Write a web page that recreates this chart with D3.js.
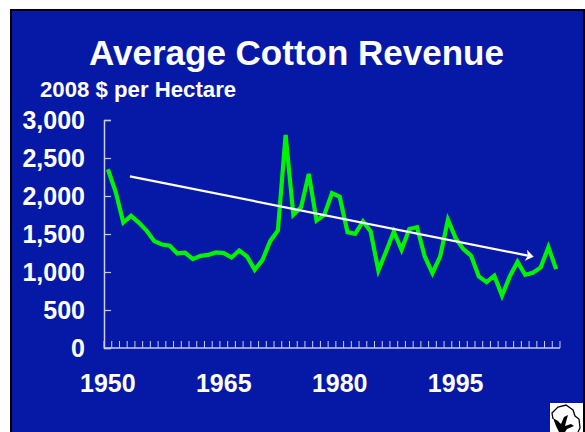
<!DOCTYPE html>
<html><head><meta charset="utf-8">
<script src="https://d3js.org/d3.v7.min.js"></script>
<style>html,body{margin:0;padding:0;background:#fff}svg{display:block}text{font-family:"Liberation Sans",Arial,sans-serif;font-weight:bold;fill:#fff}</style>
</head><body><svg id="c" width="585" height="432"></svg>
<script>
const years = d3.range(1950, 2009);
const revenue = [2352,2058,1651,1739,1650,1546,1406,1362,1345,1244,1253,1169,1213,1226,1257,1248,1191,1283,1204,1029,1156,1406,1546,2803,1752,1853,2290,1677,1752,2037,1990,1524,1502,1665,1533,1020,1270,1533,1292,1565,1590,1205,985,1205,1687,1446,1301,1214,941,866,950,691,941,1134,963,990,1060,1327,1038];
const trendYears = [1952.86, 2005.1];
const trendValues = [2259, 1200];
const yTicks = [0,500,1000,1500,2000,2500,3000];
const xLabels = [1950,1965,1980,1995];
const titleText = "Average Cotton Revenue";
const unitText = "2008 $ per Hectare";

const svg = d3.select("#c");
svg.append("rect").attr("x",11).attr("y",10).attr("width",573).attr("height",430).attr("fill","#0619A6").attr("stroke","#000").attr("stroke-width",2);
const x = d3.scaleBand().domain(years).range([104,560]);
const xc = d => x(d)+x.bandwidth()/2;
const xl = d3.scaleLinear().domain([1950,2008]).range([xc(1950),xc(2008)]);
const y = d3.scaleLinear().domain([0,3000]).range([348,120]);
const axisCol = "#c9cdea";
const gy = svg.append("g").attr("transform","translate(104,0)").call(d3.axisLeft(y).tickValues(yTicks).tickSize(-7).tickPadding(19).tickFormat(d3.format(",")));
gy.selectAll(".domain").attr("stroke",axisCol).attr("stroke-width",1.5);
gy.selectAll("line").attr("stroke",axisCol).attr("stroke-width",1.2);
gy.selectAll("text").style("font-size","25px").attr("dy","0.35em");
const gx = svg.append("g").attr("transform","translate(0,348)");
gx.append("line").attr("x1",104).attr("x2",560).attr("stroke",axisCol).attr("stroke-width",1.5);
gx.selectAll("line.t").data([...years.map(d=>x(d)),560]).join("line").attr("class","t").attr("x1",d=>d).attr("x2",d=>d).attr("y1",0).attr("y2",-7).attr("stroke",axisCol).attr("stroke-width",1);
gx.selectAll("text").data(xLabels).join("text").attr("x",xc).attr("y",44).attr("text-anchor","middle").style("font-size","25px").text(d=>d);
svg.append("path").datum(revenue).attr("fill","none").attr("stroke","#00F400").attr("stroke-width",4.2).attr("stroke-linejoin","miter")
 .attr("d",d3.line().x((d,i)=>xc(years[i])).y(d=>y(d)));
const x0=xl(trendYears[0]),y0=y(trendValues[0]),x1=xl(trendYears[1]),y1=y(trendValues[1]);
const a=Math.atan2(y1-y0,x1-x0), deg=a*180/Math.PI;
svg.append("line").attr("x1",x0).attr("y1",y0).attr("x2",x1-6*Math.cos(a)).attr("y2",y1-6*Math.sin(a)).attr("stroke","#fff").attr("stroke-width",2.2);
svg.append("path").attr("d","M0,0L-8,-5.5L-6,0L-8,5.5Z").attr("fill","#fff").attr("transform",`translate(${x1},${y1}) rotate(${deg})`);
svg.append("text").attr("x",296.5).attr("y",65).attr("text-anchor","middle").style("font-size","35px").text(titleText);
svg.append("text").attr("x",40).attr("y",97).style("font-size","22.2px").text(unitText);
const ic = svg.append("g").attr("transform","translate(550,403)");
ic.append("rect").attr("width",33).attr("height",29).attr("fill","#fff");
ic.append("path").attr("d","M3,16L2,10L8,4L16,2L23,7L25,13L29,16L30,25L28,29").attr("fill","none").attr("stroke","#000").attr("stroke-width",1.3);
ic.append("path").attr("d","M3,15L8,18L11,21L14,14L18,12L16,19L15,23L21,21L24,23L17,26L15,29L9,29L6,23Z").attr("fill","#000");
</script></body></html>
